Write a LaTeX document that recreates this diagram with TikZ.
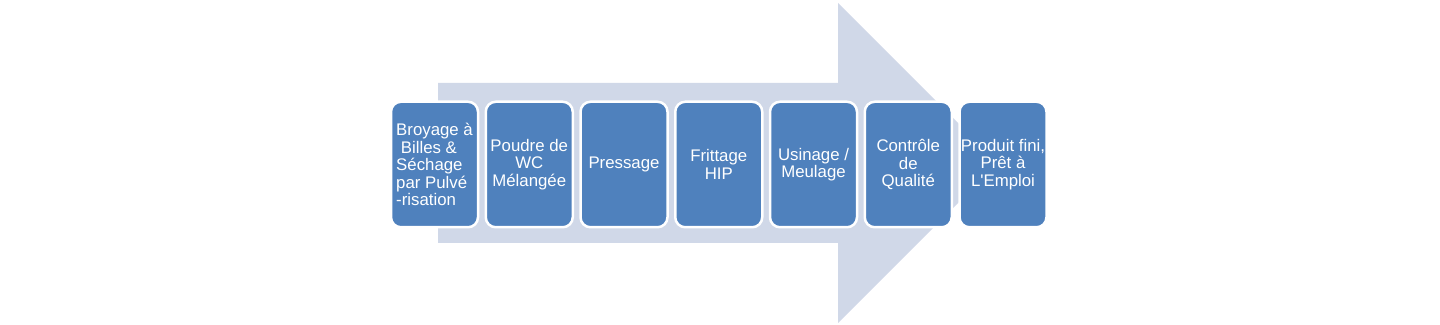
\documentclass[tikz,border=0pt]{standalone}
\usepackage{fontspec}
\setmainfont{Liberation Sans}[Ligatures=TeXOff]
\usetikzlibrary{positioning, backgrounds}

\definecolor{stageblue}{HTML}{4F81BD}
\definecolor{flowgrey}{HTML}{D0D8E8}

\begin{document}
\begin{tikzpicture}[
  x=1pt, y=1pt,
  font=\fontsize{16.8}{17.5}\selectfont,
  node distance=5.25pt,
  stage/.style={draw=white, line width=2.5pt, rounded corners=10pt, fill=stageblue,
                text=white, minimum width=87pt, minimum height=125.5pt, inner sep=0pt, align=center},
  flow/.style ={fill=flowgrey},
]
\useasboundingbox (0,0) rectangle (1440,324);
\node[stage, align=left] (s1) at (434.5,159.5) {Broyage à\\\ Billes \&\\Séchage\\par Pulvé\\-risation};
\node[stage, right=of s1] (s2) {Poudre de\\WC\\Mélangée};
\node[stage, right=of s2] (s3) {Pressage};
\node[stage, right=of s3] (s4) {Frittage\\HIP};
\node[stage, right=of s4] (s5) {Usinage /\\Meulage};
\node[stage, right=of s5] (s6) {Contrôle\\de\\Qualité};
\node[stage, right=of s6] (s7) {Produit fini,\\Prêt à\\L'Emploi};
\begin{scope}[on background layer]
  % big process arrow behind the stages
  \fill[flow] (438,81) -- (838,81) -- (838,1) -- (998,161) -- (838,321) -- (838,241) -- (438,241) -- cycle;
\end{scope}
\end{tikzpicture}
\end{document}
